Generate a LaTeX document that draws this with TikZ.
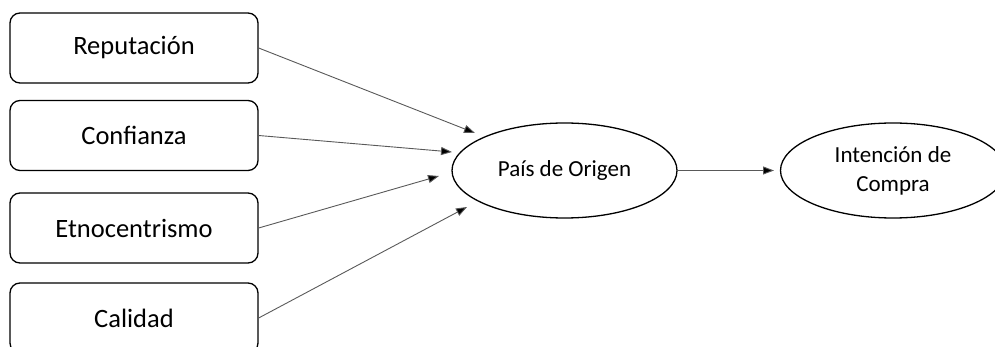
\documentclass[tikz,border=0pt]{standalone}
\usepackage{fontspec}
\setmainfont{Carlito}
\usetikzlibrary{arrows.meta,shapes.geometric}
\begin{document}
\begin{tikzpicture}[x=1pt,y=-1pt,
  factor/.style={draw=black,line width=1.3pt,rounded corners=10pt,minimum width=248pt,minimum height=70pt,inner sep=0pt,font=\fontsize{26.5}{30}\selectfont},
  construct/.style={draw=black,line width=1.3pt,ellipse,minimum width=225pt,minimum height=95pt,inner sep=0pt,align=center,font=\fontsize{23}{29}\selectfont},
  link/.style={draw=black!65,line width=0.9pt,-{Triangle[length=11pt,width=8pt,fill=black]}}]
\useasboundingbox (0,0) rectangle (995,347);
\clip (0,0) rectangle (995,347);
\node[factor] (rep) at (134,48) {Reputación};
\node[factor] (con) at (134,135.5) {Confianza};
\node[factor] (etn) at (134,228) {Etnocentrismo};
\node[factor] (cal) at (134,318) {Calidad};
\node[construct] (pais) at (564.5,170.5) {País de Origen};
\node[construct] (int) at (893,170.5) {Intención de\\Compra};
\coordinate (t1) at (475,133);
\coordinate (t2) at (452,152);
\coordinate (t3) at (439,176);
\coordinate (t4) at (467,207);
\coordinate (t5) at (774,170.5);
\draw[link] (rep.east) -- (t1);
\draw[link] (con.east) -- (t2);
\draw[link] (etn.east) -- (t3);
\draw[link] (cal.east) -- (t4);
\draw[link] (pais.east) -- (t5);
\end{tikzpicture}
\end{document}
